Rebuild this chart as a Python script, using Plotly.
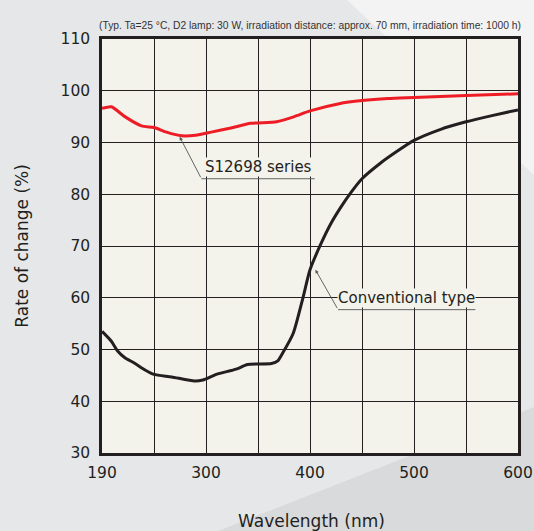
import plotly.graph_objects as go

# ---- data (x in axis units; left edge is labelled "190") ----
red_x = [200, 209, 222, 238, 250, 262, 277, 290, 305, 324, 343, 368, 385, 400, 428, 450, 475, 500, 550, 600]
red_y = [96.6, 96.9, 95.0, 93.2, 92.9, 92.0, 91.3, 91.4, 92.0, 92.8, 93.7, 94.0, 95.0, 96.1, 97.5, 98.1, 98.5, 98.7, 99.1, 99.4]

black_x = [200, 209, 215, 222, 231, 241, 250, 267, 289, 297, 310, 329, 340, 363, 369, 374, 384, 393, 400, 410, 420, 430, 440, 450, 467, 483, 500, 525, 550, 575, 600]
black_y = [53.5, 51.6, 49.7, 48.4, 47.4, 46.1, 45.2, 44.7, 43.9, 44.1, 45.2, 46.2, 47.1, 47.3, 47.8, 49.4, 53.2, 59.8, 65.4, 70.2, 74.3, 77.6, 80.5, 83.0, 85.9, 88.2, 90.4, 92.5, 94.0, 95.2, 96.3]

x_tickvals = [200, 250, 300, 350, 400, 450, 500, 550, 600]
x_ticktext = ["190", "", "300", "", "400", "", "500", "", "600"]
y_tickvals = [30, 40, 50, 60, 70, 80, 90, 100, 110]

W, H = 534, 531
L, R, T, B = 102, 16, 39, 78
PW, PH = W - L - R, H - T - B

def px(x):
    return (x - L) / PW

def py(y):
    return (H - B - y) / PH

INK = "#231f20"
CREAM = "#f3f2eb"
FONT = "DejaVu Sans, Verdana, sans-serif"

fig = go.Figure()
fig.add_trace(go.Scatter(x=black_x, y=black_y, mode="lines",
                         line=dict(color=INK, width=3, shape="spline", smoothing=0.6),
                         hoverinfo="skip", showlegend=False))
fig.add_trace(go.Scatter(x=red_x, y=red_y, mode="lines",
                         line=dict(color="#ee1c25", width=3, shape="spline", smoothing=0.6),
                         hoverinfo="skip", showlegend=False))

shapes = [
    # background decoration
    dict(type="path", xref="paper", yref="paper", layer="below", line=dict(width=0),
         fillcolor="#f3f3f4",
         path=f"M {px(347)} {py(0)} L {px(534)} {py(0)} L {px(534)} {py(175)} Z"),
    dict(type="path", xref="paper", yref="paper", layer="below", line=dict(width=0),
         fillcolor="#d9dadc",
         path=f"M {px(218)} {py(531)} L {px(534)} {py(407)} L {px(534)} {py(531)} Z"),
    # plot area
    dict(type="rect", xref="paper", yref="paper", layer="below", x0=0, x1=1, y0=0, y1=1,
         fillcolor=CREAM, line=dict(width=0)),
    # leader lines / underlines
    dict(type="line", xref="x", yref="y", x0=295.6, y0=83.0, x1=404.5, y1=83.0,
         line=dict(color="#555555", width=0.9)),
    dict(type="line", xref="x", yref="y", x0=427, y0=57.7, x1=559, y1=57.7,
         line=dict(color="#555555", width=0.9)),
]

annotations = [
    dict(x=274.7, y=91.1, ax=295.6, ay=83.0, xref="x", yref="y", axref="x", ayref="y",
         text="", showarrow=True, arrowhead=2, arrowsize=0.8, arrowwidth=0.9, arrowcolor="#555555",
         standoff=0, startstandoff=0),
    dict(x=405.2, y=65.4, ax=427, ay=57.7, xref="x", yref="y", axref="x", ayref="y",
         text="", showarrow=True, arrowhead=2, arrowsize=0.8, arrowwidth=0.9, arrowcolor="#555555",
         standoff=0, startstandoff=0),
    dict(x=350, y=85.3, xref="x", yref="y", text="S12698 series", showarrow=False,
         font=dict(family=FONT, size=15, color=INK), bgcolor=CREAM, borderpad=0,
         xanchor="center", yanchor="middle"),
    dict(x=493, y=60, xref="x", yref="y", text="Conventional type", showarrow=False,
         font=dict(family=FONT, size=15, color=INK), bgcolor=CREAM, borderpad=0,
         xanchor="center", yanchor="middle"),
    dict(x=px(309.6), y=py(25.5), xref="paper", yref="paper",
         text="(Typ. Ta=25 °C, D2 lamp: 30 W, irradiation distance: approx. 70 mm, irradiation time: 1000 h)",
         showarrow=False, xanchor="center", yanchor="middle",
         font=dict(family="Liberation Sans, Arial, sans-serif", size=10.3, color="#333333")),
    dict(x=px(21.7), y=py(246), xref="paper", yref="paper", text="Rate of change (%)",
         textangle=-90, showarrow=False, xanchor="center", yanchor="middle",
         font=dict(family=FONT, size=17, color=INK)),
    dict(x=px(311), y=py(521), xref="paper", yref="paper", text="Wavelength (nm)",
         showarrow=False, xanchor="center", yanchor="middle",
         font=dict(family=FONT, size=17, color=INK)),
]

fig.update_layout(
    width=W, height=H,
    margin=dict(l=L, r=R, t=T, b=B, autoexpand=False),
    paper_bgcolor="#e6e7e9",
    plot_bgcolor="rgba(0,0,0,0)",
    shapes=shapes,
    annotations=annotations,
    showlegend=False,
)
fig.update_xaxes(range=[200, 600], tickvals=x_tickvals, ticktext=x_ticktext, automargin=False,
                 showgrid=True, gridcolor=INK, gridwidth=1.2, zeroline=False,
                 showline=True, mirror=True, linecolor=INK, linewidth=2.5,
                 ticks="", tickfont=dict(family=FONT, size=15.5, color=INK), ticklabelstandoff=4)
fig.update_yaxes(range=[30, 110], tickvals=y_tickvals, automargin=False,
                 showgrid=True, gridcolor=INK, gridwidth=1.2, zeroline=False,
                 showline=True, mirror=True, linecolor=INK, linewidth=2.5,
                 ticks="", tickfont=dict(family=FONT, size=15.5, color=INK), ticklabelstandoff=6)

fig.write_html("out.html")
